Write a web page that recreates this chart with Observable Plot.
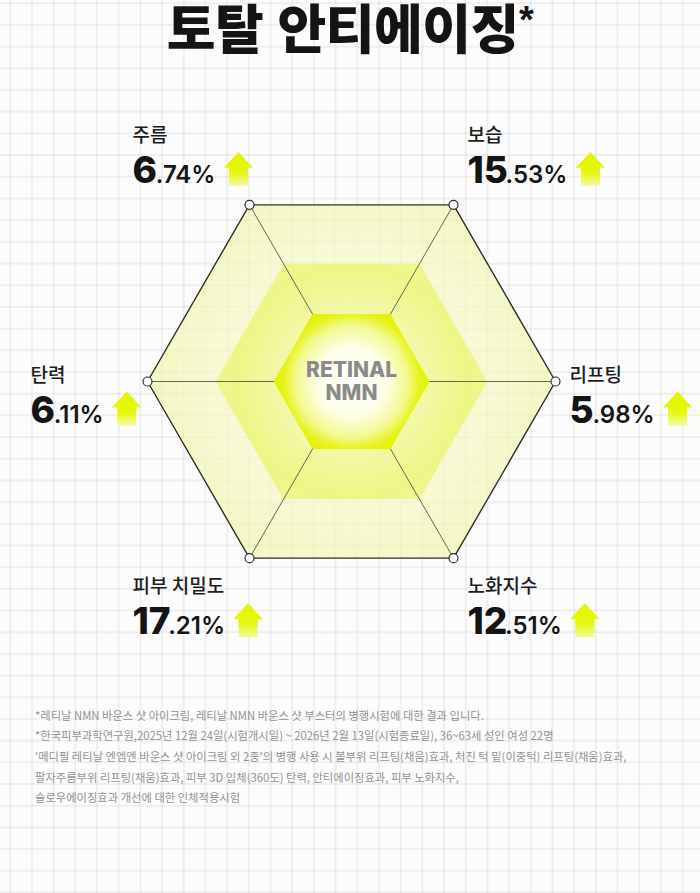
<!DOCTYPE html>
<html><head><meta charset="utf-8">
<script src="https://cdn.jsdelivr.net/npm/d3@7"></script>
<script src="https://cdn.jsdelivr.net/npm/@observablehq/plot@0.6"></script>
<style>
html,body{margin:0;padding:0;}
body{width:700px;height:893px;overflow:hidden;background-color:#fcfcfc;
background-image:linear-gradient(to bottom, rgba(0,0,0,0.05) 1.5px, transparent 1.5px), linear-gradient(to right, rgba(0,0,0,0.05) 1.5px, transparent 1.5px);
background-size:21.7px 21.7px;background-position:9.3px 2.3px;
font-family:'Noto Sans CJK KR',sans-serif;}
#title{height:62px;margin:0;text-align:center;font-family:'Liberation Sans','Noto Sans CJK KR',sans-serif;font-size:53px;font-weight:900;line-height:59px;color:#141414;position:relative;top:0.5px;letter-spacing:-0.5px;white-space:nowrap;overflow:visible}
#title span{font-size:38px;vertical-align:top;line-height:38px}
#chart svg{display:block}
#notes{padding:17.6px 0 0 35px;font-size:11.3px;line-height:20.7px;color:#929292;white-space:nowrap;letter-spacing:0}
</style></head>
<body>
<div id="title"></div>
<div id="chart"></div>
<div id="notes"></div>
<script>
// ---- data ----
const titleText = "토탈 안티에이징";
const titleMark = "*";
const categories = ["주름", "보습", "리프팅", "노화지수", "피부 치밀도", "탄력"];
const values = [6.74, 15.53, 5.98, 12.51, 17.21, 6.11];
const levels = [1, 0.667, 0.382];
const centerLabel = ["RETINAL", "NMN"];
const footnotes = [
  "*레티날 NMN 바운스 샷 아이크림, 레티날 NMN 바운스 샷 부스터의 병행시험에 대한 결과 입니다.",
  "*한국피부과학연구원,2025년 12월 24일(시험개시일) ~ 2026년 2월 13일(시험종료일), 36~63세 성인 여성 22명",
  "'메디필 레티날 엔엠엔 바운스 샷 아이크림 외 2종'의 병행 사용 시 볼부위 리프팅(채움)효과, 처진 턱 밑(이중턱) 리프팅(채움)효과,",
  "팔자주름부위 리프팅(채움)효과, 피부 3D 입체(360도) 탄력, 안티에이징효과, 피부 노화지수,",
  "슬로우에이징효과 개선에 대한 인체적용시험"
];

// ---- header / footer ----
document.getElementById("title").innerHTML = titleText + "<span>" + titleMark + "</span>";
document.getElementById("notes").innerHTML = footnotes.map(t => "<div>" + t.replace(/&/g,"&amp;").replace(/</g,"&lt;") + "</div>").join("");

// ---- layout ----
const W = 700, H = 625, R = 204, cx = 351, cy = 319;
const intFont = "800 37px Inter", decFont = "600 24px Inter";
const ctx = document.createElement("canvas").getContext("2d");
const tw = (t, f) => { ctx.font = f; return ctx.measureText(t).width; };

const axes = categories.map((c, i) => {
  const a = (120 - 60 * i) * Math.PI / 180;
  const cos = Math.cos(a), sin = Math.sin(a);
  const vx = R * cos, vy = R * sin;
  const s = values[i].toFixed(2);
  const intStr = s.split(".")[0], decStr = "." + s.split(".")[1] + "%";
  const bx = cos > 0 ? vx + 14 : vx - 117;
  const off = sin > 0.1 ? -22 : sin < -0.1 ? 76 : 41;
  const by = vy - off;
  const iw = tw(intStr, intFont) - intStr.length * 1.2, dw = tw(decStr, decFont);
  return {c, vx, vy, bx, by, ly: by + 41, intStr, decStr, dx0: bx + iw, ax: bx + iw + dw + 23, ay: by + 14};
});
const ring = l => axes.map(d => ({x: d.vx * l, y: d.vy * l}));

const arrow = {
  draw(p, size) {
    const s = Math.sqrt(size / Math.PI) / 14;
    p.moveTo(0, -16 * s); p.lineTo(14 * s, -1 * s); p.lineTo(9 * s, -1 * s);
    p.lineTo(9 * s, 16 * s); p.lineTo(-9 * s, 16 * s); p.lineTo(-9 * s, -1 * s);
    p.lineTo(-14 * s, -1 * s); p.closePath();
  }
};

const ko = "'Noto Sans CJK KR', sans-serif";
const svg = Plot.plot({
  width: W, height: H, margin: 0,
  x: {domain: [-cx, W - cx], axis: null},
  y: {domain: [-(H - cy), cy], axis: null},
  style: {background: "transparent", overflow: "visible"},
  marks: [
    Plot.line(ring(levels[0]), {x: "x", y: "y", curve: "linear-closed", fill: "url(#gOuter)", stroke: "none"}),
    Plot.line(ring(levels[1]), {x: "x", y: "y", curve: "linear-closed", fill: "url(#gMid)", stroke: "none"}),
    Plot.link(axes, {x1: () => 0, y1: () => 0, x2: "vx", y2: "vy", stroke: "#55554a", strokeWidth: 0.9}),
    Plot.line(ring(levels[2]), {x: "x", y: "y", curve: "linear-closed", fill: "url(#gInner)", stroke: "none"}),
    Plot.line(ring(levels[0]), {x: "x", y: "y", curve: "linear-closed", stroke: "#2f2f28", strokeWidth: 1.4}),
    Plot.dot(axes, {x: "vx", y: "vy", r: 4.5, fill: "white", stroke: "#2f2f2f", strokeWidth: 1.2}),
    Plot.text([centerLabel.join("\n")], {x: () => 0, y: () => 0, text: d => d, fontSize: 21, fontWeight: 800,
      fontFamily: "Inter, sans-serif", fill: "#8a8a8a", lineHeight: 1.08, textAnchor: "middle", letterSpacing: -0.4}),
    Plot.text(axes, {x: "bx", y: "ly", text: "c", textAnchor: "start", lineAnchor: "bottom", fontSize: 19,
      fontWeight: 500, fontFamily: ko, fill: "#1c1c1c"}),
    Plot.text(axes, {x: "bx", y: "by", text: "intStr", textAnchor: "start", lineAnchor: "bottom", fontSize: 37,
      fontWeight: 800, fontFamily: "Inter, sans-serif", fill: "#141414", letterSpacing: -1.2}),
    Plot.text(axes, {x: "dx0", y: "by", text: "decStr", textAnchor: "start", lineAnchor: "bottom", fontSize: 24,
      fontWeight: 600, fontFamily: "Inter, sans-serif", fill: "#161616"}),
    Plot.dot(axes, {x: "ax", y: "ay", r: 14.8, symbol: arrow, fill: "url(#gArrow)", stroke: "none"})
  ]
});

const defs = d3.select(svg).insert("defs", ":first-child");
function radial(id, r, stops) {
  const g = defs.append("radialGradient").attr("id", id).attr("gradientUnits", "userSpaceOnUse")
    .attr("cx", cx).attr("cy", cy).attr("r", r);
  stops.forEach(([o, c, a]) => g.append("stop").attr("offset", o).attr("stop-color", c).attr("stop-opacity", a));
}
radial("gOuter", R, [[0, "#f6f9c8", 0.7], [0.6, "#f6f9c8", 0.72], [1, "#eff5a6", 0.66]]);
radial("gMid", R * levels[1], [[0, "#f3f8a8", 0.85], [0.55, "#f1f89c", 0.85], [0.85, "#ecf574", 0.82], [1, "#ecf57c", 0.76]]);
radial("gInner", R * levels[2], [[0, "#ffffff", 1], [0.45, "#fdfee6", 1], [0.72, "#f3f98c", 1], [0.87, "#e6f31a", 1], [1, "#e2f100", 1]]);
const lg = defs.append("linearGradient").attr("id", "gArrow").attr("x1", 0).attr("y1", 0).attr("x2", 0).attr("y2", 1);
[[0, "#e4f600", 1], [0.6, "#e6f70a", 1], [1, "#f1fb8a", 0.85]].forEach(([o, c, a]) =>
  lg.append("stop").attr("offset", o).attr("stop-color", c).attr("stop-opacity", a));

document.getElementById("chart").appendChild(svg);
</script>
</body></html>
